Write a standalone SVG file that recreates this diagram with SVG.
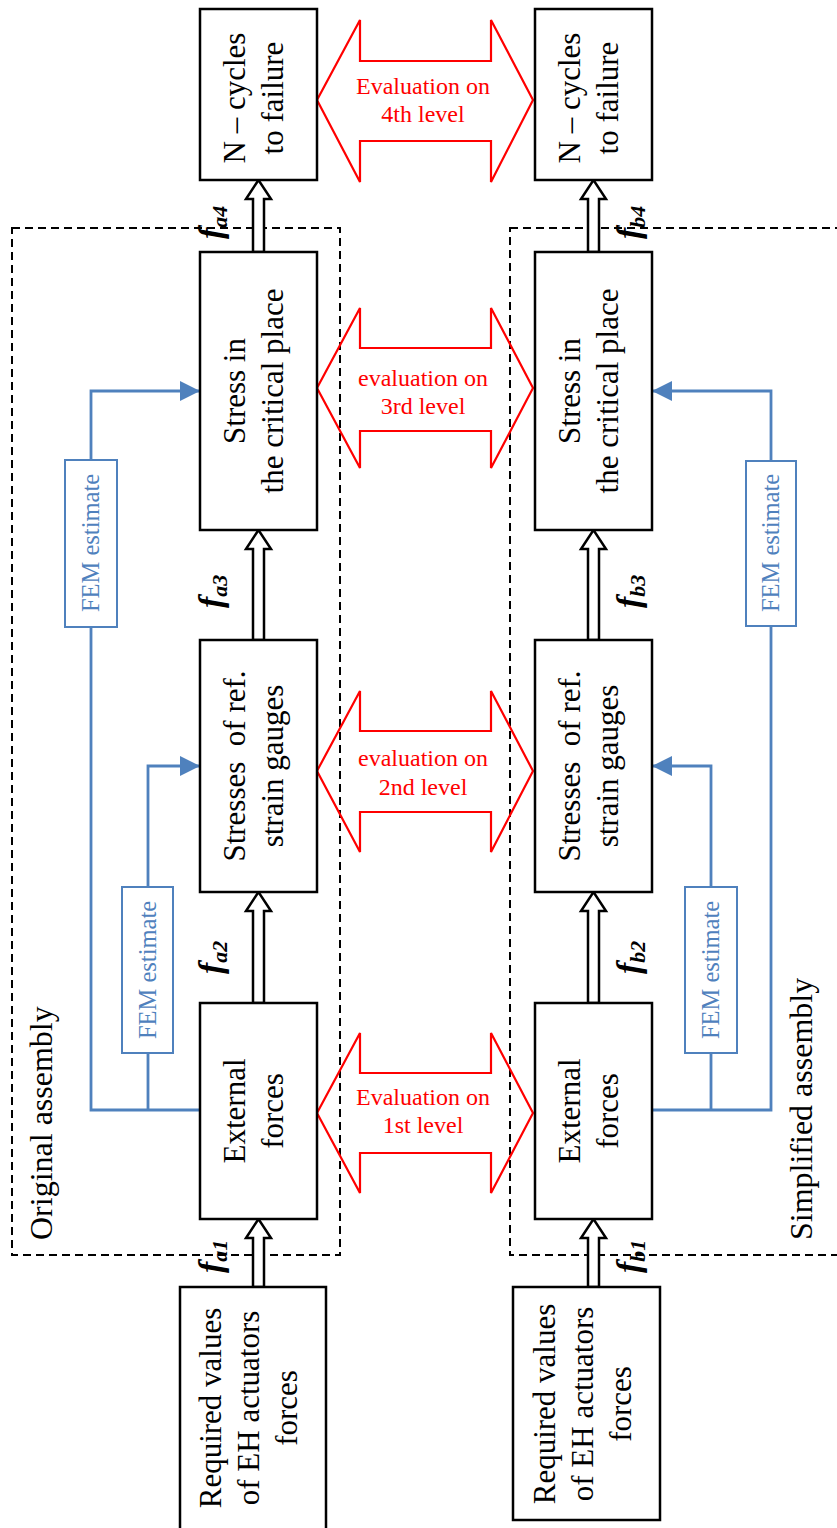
<svg xmlns="http://www.w3.org/2000/svg" width="837" height="1528" viewBox="0 0 837 1528">
<defs>
<style>
.box{fill:#fff;stroke:#000;stroke-width:2.5}
.t{font-family:"Liberation Serif","Times New Roman",serif;font-size:31px;fill:#000;text-anchor:middle}
.lab{font-family:"Liberation Serif","Times New Roman",serif;font-size:32px;fill:#000}
.dash{fill:none;stroke:#000;stroke-width:2;stroke-dasharray:8,5}
.red{fill:none;stroke:#FF0000;stroke-width:2.2;stroke-linejoin:miter}
.rt{font-family:"Liberation Serif","Times New Roman",serif;font-size:24px;fill:#FF0000;text-anchor:middle}
.hollow{fill:#fff;stroke:#000;stroke-width:2.5;stroke-linejoin:miter}
.blue{fill:none;stroke:#4F81BD;stroke-width:2.8}
.fem{fill:#fff;stroke:#4F81BD;stroke-width:2}
.ft{font-family:"Liberation Serif","Times New Roman",serif;font-size:24.5px;fill:#4F81BD;text-anchor:middle}
.f{font-family:"Liberation Serif","Times New Roman",serif;font-size:34px;font-weight:bold;font-style:italic;fill:#000}
.sub{font-size:22px}
</style>
<marker id="ah" markerUnits="userSpaceOnUse" markerWidth="20" markerHeight="20" refX="20" refY="10" orient="auto">
<path d="M0,0 L20,10 L0,20 z" fill="#4F81BD"/>
</marker>
</defs>
<rect width="837" height="1528" fill="#fff"/>

<g id="groups">
<rect class="dash" x="12" y="228" width="328" height="1027"/>
<rect class="dash" x="510" y="228" width="340" height="1027"/>
<text class="lab" transform="translate(52,1240) rotate(-90)">Original assembly</text>
<text class="lab" transform="translate(812,1240) rotate(-90)">Simplified assembly</text>
</g>

<g id="evaluations">
<g id="eval4">
<polygon class="red" points="317,100 360,20 360,61 491,61 491,20 533,100 491,182 491,141 360,141 360,182"/>
<rect x="361.5" y="62.5" width="128" height="77" fill="#fff"/>
<text class="rt" x="423" y="94">Evaluation on</text>
<text class="rt" x="423" y="122">4th level</text>
</g>
<g id="eval3">
<polygon class="red" points="317,388 360,308 360,348 491,348 491,308 533,388 491,468 491,431 360,431 360,468"/>
<rect x="361.5" y="349.5" width="128" height="80" fill="#fff"/>
<text class="rt" x="423" y="386">evaluation on</text>
<text class="rt" x="423" y="414">3rd level</text>
</g>
<g id="eval2">
<polygon class="red" points="317,771 360,691 360,731 491,731 491,691 533,771 491,852 491,812 360,812 360,852"/>
<rect x="361.5" y="732.5" width="128" height="78" fill="#fff"/>
<text class="rt" x="423" y="766">evaluation on</text>
<text class="rt" x="423" y="795">2nd level</text>
</g>
<g id="eval1">
<polygon class="red" points="317,1113 360,1033 360,1073 491,1073 491,1033 533,1113 491,1193 491,1153 360,1153 360,1193"/>
<rect x="361.5" y="1074.5" width="128" height="77" fill="#fff"/>
<text class="rt" x="423" y="1105">Evaluation on</text>
<text class="rt" x="423" y="1133">1st level</text>
</g>
</g>

<g id="connectors">
<polygon class="hollow" points="253,1287 253,1238 246,1238 258.5,1219 271,1238 264,1238 264,1287"/>
<polygon class="hollow" points="253,1003 253,911 246,911 258.5,892 271,911 264,911 264,1003"/>
<polygon class="hollow" points="253,640 253,549 246,549 258.5,530 271,549 264,549 264,640"/>
<polygon class="hollow" points="253,252 253,199 246,199 258.5,180 271,199 264,199 264,252"/>
<polygon class="hollow" points="588,1287 588,1238 581,1238 593.5,1219 606,1238 599,1238 599,1287"/>
<polygon class="hollow" points="588,1003 588,911 581,911 593.5,892 606,911 599,911 599,1003"/>
<polygon class="hollow" points="588,640 588,549 581,549 593.5,530 606,549 599,549 599,640"/>
<polygon class="hollow" points="588,252 588,199 581,199 593.5,180 606,199 599,199 599,252"/>
<path class="blue" d="M200,1110 H91 V391 H200" marker-end="url(#ah)"/>
<path class="blue" d="M148,1110 V766 H200" marker-end="url(#ah)"/>
<path class="blue" d="M652,1110 H771 V391 H652" marker-end="url(#ah)"/>
<path class="blue" d="M711,1110 V766 H652" marker-end="url(#ah)"/>
<text class="f" transform="translate(222,239) rotate(-90)">f<tspan class="sub" dy="5">a4</tspan></text>
<text class="f" transform="translate(222,608) rotate(-90)">f<tspan class="sub" dy="5">a3</tspan></text>
<text class="f" transform="translate(222,974) rotate(-90)">f<tspan class="sub" dy="5">a2</tspan></text>
<text class="f" transform="translate(222,1273) rotate(-90)">f<tspan class="sub" dy="5">a1</tspan></text>
<text class="f" transform="translate(640,239) rotate(-90)">f<tspan class="sub" dy="5">b4</tspan></text>
<text class="f" transform="translate(640,608) rotate(-90)">f<tspan class="sub" dy="5">b3</tspan></text>
<text class="f" transform="translate(640,974) rotate(-90)">f<tspan class="sub" dy="5">b2</tspan></text>
<text class="f" transform="translate(640,1273) rotate(-90)">f<tspan class="sub" dy="5">b1</tspan></text>
</g>

<g id="fem-a3">
<rect class="fem" x="65" y="460" width="52" height="167"/>
<text class="ft" transform="translate(91,543) rotate(-90)" y="8">FEM estimate</text>
</g>
<g id="fem-a2">
<rect class="fem" x="122" y="887" width="51" height="166"/>
<text class="ft" transform="translate(148,970) rotate(-90)" y="8">FEM estimate</text>
</g>
<g id="fem-b3">
<rect class="fem" x="746" y="461" width="50" height="165"/>
<text class="ft" transform="translate(771,543) rotate(-90)" y="8">FEM estimate</text>
</g>
<g id="fem-b2">
<rect class="fem" x="685" y="887" width="52" height="166"/>
<text class="ft" transform="translate(711,970) rotate(-90)" y="8">FEM estimate</text>
</g>

<g id="a-ncycles">
<rect class="box" x="200" y="9" width="117" height="171"/>
<text class="t" transform="translate(258.5,98) rotate(-90)"><tspan x="0" y="-13.5">N – cycles</tspan><tspan x="0" y="24.5">to failure</tspan></text>
</g>
<g id="a-stress">
<rect class="box" x="200" y="252" width="117" height="278"/>
<text class="t" transform="translate(258.5,391) rotate(-90)"><tspan x="0" y="-13.5">Stress in</tspan><tspan x="0" y="24.5">the critical place</tspan></text>
</g>
<g id="a-stresses">
<rect class="box" x="200" y="640" width="117" height="252"/>
<text class="t" transform="translate(258.5,766) rotate(-90)" style="white-space:pre"><tspan x="0" y="-13.5">Stresses  of ref.</tspan><tspan x="0" y="24.5">strain gauges</tspan></text>
</g>
<g id="a-external">
<rect class="box" x="200" y="1003" width="117" height="216"/>
<text class="t" transform="translate(258.5,1111) rotate(-90)"><tspan x="0" y="-13.5">External</tspan><tspan x="0" y="24.5">forces</tspan></text>
</g>
<g id="a-required">
<rect class="box" x="180" y="1287" width="146" height="260"/>
<text class="t" transform="translate(253,1408) rotate(-90)"><tspan x="0" y="-32">Required values</tspan><tspan x="0" y="6">of EH actuators</tspan><tspan x="0" y="44">forces</tspan></text>
</g>

<g id="b-ncycles">
<rect class="box" x="535" y="9" width="117" height="171"/>
<text class="t" transform="translate(593.5,98) rotate(-90)"><tspan x="0" y="-13.5">N – cycles</tspan><tspan x="0" y="24.5">to failure</tspan></text>
</g>
<g id="b-stress">
<rect class="box" x="535" y="252" width="117" height="278"/>
<text class="t" transform="translate(593.5,391) rotate(-90)"><tspan x="0" y="-13.5">Stress in</tspan><tspan x="0" y="24.5">the critical place</tspan></text>
</g>
<g id="b-stresses">
<rect class="box" x="535" y="640" width="117" height="252"/>
<text class="t" transform="translate(593.5,766) rotate(-90)" style="white-space:pre"><tspan x="0" y="-13.5">Stresses  of ref.</tspan><tspan x="0" y="24.5">strain gauges</tspan></text>
</g>
<g id="b-external">
<rect class="box" x="535" y="1003" width="117" height="216"/>
<text class="t" transform="translate(593.5,1111) rotate(-90)"><tspan x="0" y="-13.5">External</tspan><tspan x="0" y="24.5">forces</tspan></text>
</g>
<g id="b-required">
<rect class="box" x="513" y="1287" width="147" height="233"/>
<text class="t" transform="translate(586.5,1404) rotate(-90)"><tspan x="0" y="-32">Required values</tspan><tspan x="0" y="6">of EH actuators</tspan><tspan x="0" y="44">forces</tspan></text>
</g>
</svg>
